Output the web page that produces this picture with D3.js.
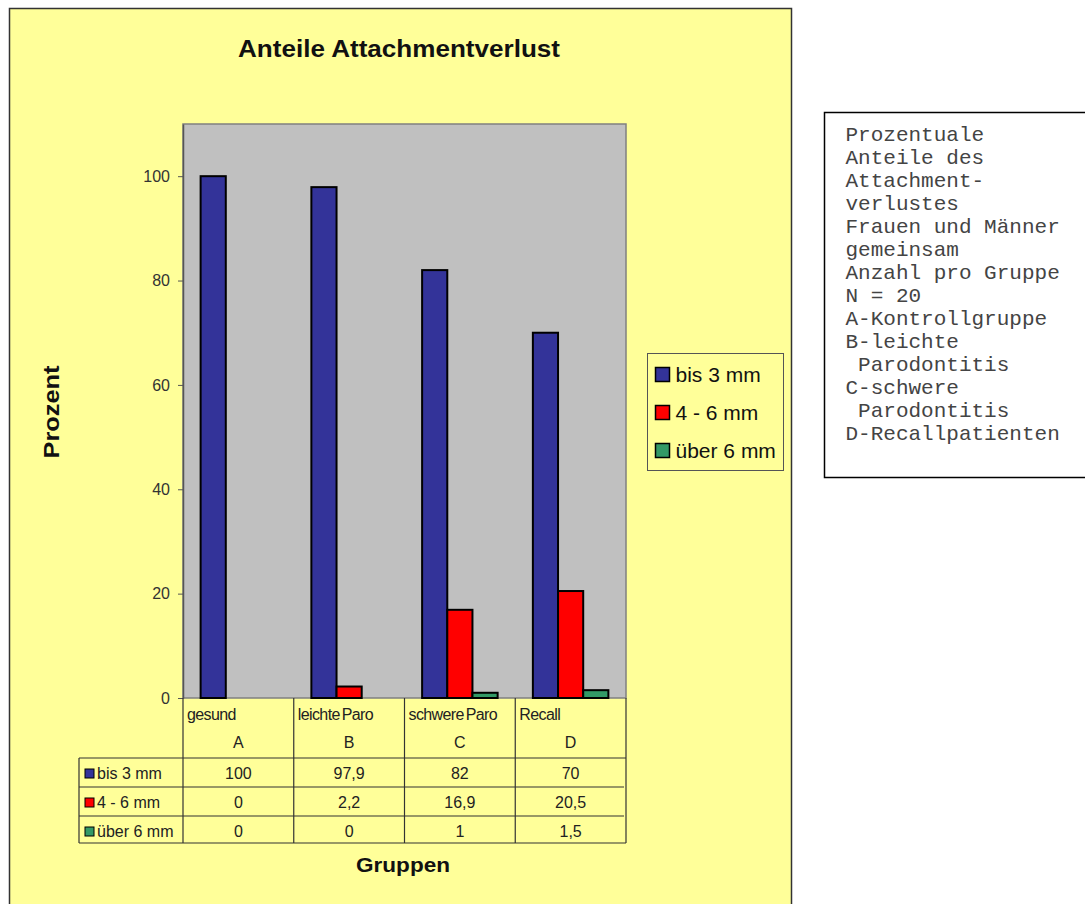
<!DOCTYPE html>
<html>
<head>
<meta charset="utf-8">
<script src="https://cdn.jsdelivr.net/npm/d3@7"></script>
<style>
  body { margin: 0; background: #fff; }
  svg { display: block; }
</style>
</head>
<body>
<script>
// data
const groups = ['gesund', 'leichte Paro', 'schwere Paro', 'Recall'];
const letters = ['A', 'B', 'C', 'D'];
const seriesNames = ['bis 3 mm', '4 - 6 mm', 'über 6 mm'];
const bis3 = [100, 97.9, 82, 70];
const mm4bis6 = [0, 2.2, 16.9, 20.5];
const ueber6 = [0, 0, 1, 1.5];
const yTicks = [0, 20, 40, 60, 80, 100];
const noteLines = ['Prozentuale', 'Anteile des', 'Attachment-', 'verlustes',
  'Frauen und Männer', 'gemeinsam', 'Anzahl pro Gruppe', 'N = 20',
  'A-Kontrollgruppe', 'B-leichte', ' Parodontitis', 'C-schwere',
  ' Parodontitis', 'D-Recallpatienten'];

const colors = ['#333399', '#ff0000', '#339966'];
const series = [bis3, mm4bis6, ueber6];
const fmt = v => String(v).replace('.', ',');
const sans = 'Liberation Sans, Arial, sans-serif';

const W = 1085, H = 904;
const plot = { x0: 183, x1: 626, y0: 124, y1: 698 };

const svg = d3.select('body').append('svg')
    .attr('width', W).attr('height', H)
    .attr('viewBox', `0 0 ${W} ${H}`);

// chart area
svg.append('rect')
    .attr('x', 9.5).attr('y', 8.5).attr('width', 782).attr('height', 910)
    .attr('fill', '#ffff99').attr('stroke', '#333').attr('stroke-width', 1.5);

svg.append('text')
    .attr('x', 399).attr('y', 57)
    .attr('text-anchor', 'middle')
    .attr('font-family', sans)
    .attr('font-weight', 'bold').attr('font-size', 23)
    .attr('textLength', 322).attr('lengthAdjust', 'spacingAndGlyphs')
    .attr('fill', '#111')
    .text('Anteile Attachmentverlust');

// scales
const x = d3.scaleBand().domain(letters).range([plot.x0, plot.x1]);
const xs = d3.scaleBand().domain(d3.range(3)).range([0, x.bandwidth()])
    .paddingInner(0).paddingOuter(0.7);
const y = d3.scaleLinear().domain([0, 110]).range([plot.y1, plot.y0]);

svg.append('rect')
    .attr('x', plot.x0).attr('y', plot.y0)
    .attr('width', plot.x1 - plot.x0).attr('height', plot.y1 - plot.y0)
    .attr('fill', '#c0c0c0').attr('stroke', '#808080').attr('stroke-width', 1.5);

// y axis
const yAxis = svg.append('g')
    .attr('transform', `translate(${plot.x0},0)`)
    .call(d3.axisLeft(y).tickValues(yTicks).tickSize(5).tickSizeOuter(0).tickPadding(8));
yAxis.select('.domain').attr('stroke', '#555').attr('stroke-width', 1.5);
yAxis.selectAll('.tick line').attr('stroke', '#555');
yAxis.selectAll('.tick text')
    .attr('font-family', sans)
    .attr('font-size', 16).attr('fill', '#333');

svg.append('text')
    .attr('transform', `translate(59,412) rotate(-90)`)
    .attr('text-anchor', 'middle')
    .attr('font-family', sans)
    .attr('font-weight', 'bold').attr('font-size', 22).attr('fill', '#111')
    .attr('textLength', 93).attr('lengthAdjust', 'spacingAndGlyphs')
    .text('Prozent');

// bars
const barGroups = svg.append('g').selectAll('g')
    .data(series).join('g')
    .attr('fill', (d, i) => colors[i]);
barGroups.each(function (vals, si) {
  d3.select(this).selectAll('rect')
      .data(vals.map((v, gi) => ({ v, gi })).filter(d => d.v > 0))
      .join('rect')
      .attr('x', d => x(letters[d.gi]) + xs(si))
      .attr('width', xs.bandwidth())
      .attr('y', d => y(d.v))
      .attr('height', d => y(0) - y(d.v))
      .attr('stroke', '#000').attr('stroke-width', 2);
});

// data table
const tbl = svg.append('g')
    .attr('font-family', sans)
    .attr('fill', '#222');
const rowY = [698, 758, 787, 816, 843];
const line = (x1, y1, x2, y2) => tbl.append('line')
    .attr('x1', x1).attr('y1', y1).attr('x2', x2).attr('y2', y2)
    .attr('stroke', '#333').attr('stroke-width', 1.2);

x.domain().forEach(k => line(x(k), plot.y1, x(k), rowY[4]));
line(plot.x1, plot.y1, plot.x1, rowY[4]);
line(79, rowY[1], 79, rowY[4]);
line(79, rowY[1], plot.x1, rowY[1]);
line(79, rowY[2], plot.x1 - 2, rowY[2]);
line(79, rowY[3], plot.x1 - 2, rowY[3]);
line(79, rowY[4], plot.x1, rowY[4]);

groups.forEach((g, i) => {
  tbl.append('text')
      .attr('x', x(letters[i]) + 4).attr('y', 720)
      .attr('font-size', 16).attr('letter-spacing', -0.6)
      .attr('word-spacing', -2)
      .text(g);
  tbl.append('text')
      .attr('x', x(letters[i]) + x.bandwidth() / 2).attr('y', 748)
      .attr('text-anchor', 'middle').attr('font-size', 16)
      .text(letters[i]);
});

series.forEach((vals, si) => {
  const yy = rowY[si + 1] + 21;
  tbl.append('rect')
      .attr('x', 85).attr('y', yy - 10).attr('width', 9).attr('height', 9)
      .attr('fill', colors[si]).attr('stroke', '#000').attr('stroke-width', 1);
  tbl.append('text')
      .attr('x', 97).attr('y', yy).attr('font-size', 16)
      .text(seriesNames[si]);
  vals.forEach((v, gi) => {
    tbl.append('text')
        .attr('x', x(letters[gi]) + x.bandwidth() / 2).attr('y', yy)
        .attr('text-anchor', 'middle').attr('font-size', 16)
        .text(fmt(v));
  });
});

svg.append('text')
    .attr('x', 403).attr('y', 872)
    .attr('text-anchor', 'middle')
    .attr('font-family', sans)
    .attr('font-weight', 'bold').attr('font-size', 20).attr('fill', '#111')
    .attr('textLength', 94).attr('lengthAdjust', 'spacingAndGlyphs')
    .text('Gruppen');

// legend
const legend = svg.append('g').attr('transform', 'translate(647.5,353.5)');
legend.append('rect')
    .attr('width', 136).attr('height', 117)
    .attr('fill', '#ffff99').attr('stroke', '#555').attr('stroke-width', 1);
seriesNames.forEach((n, i) => {
  const ly = 21 + i * 38;
  legend.append('rect')
      .attr('x', 8).attr('y', ly - 7).attr('width', 14).attr('height', 14)
      .attr('fill', colors[i]).attr('stroke', '#000').attr('stroke-width', 1.5);
  legend.append('text')
      .attr('x', 28).attr('y', ly + 7)
      .attr('font-family', sans)
      .attr('font-size', 21).attr('fill', '#111')
      .text(n);
});

// note box
const note = svg.append('g').attr('transform', 'translate(824.5,112.5)');
note.append('rect')
    .attr('width', 270).attr('height', 365)
    .attr('fill', '#fff').attr('stroke', '#000').attr('stroke-width', 1.5);
note.append('text')
    .attr('font-family', 'Liberation Mono, Courier New, monospace')
    .attr('font-size', 21).attr('fill', '#444')
    .attr('xml:space', 'preserve')
    .selectAll('tspan').data(noteLines).join('tspan')
    .attr('x', 21).attr('y', (d, i) => 28 + i * 23)
    .text(d => d);
</script>
</body>
</html>
